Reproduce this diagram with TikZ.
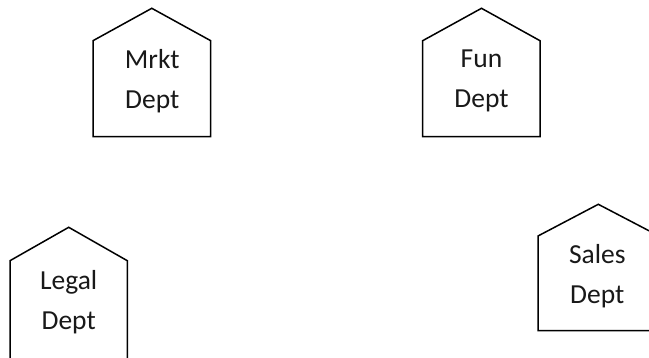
\documentclass[tikz,border=0pt]{standalone}
\usepackage{fontspec}
\setmainfont{Carlito}
\newcommand{\twolines}[2]{\vtop{\baselineskip=40pt\halign{\hfil##\hfil\cr #1\cr #2\cr}}}
\tikzset{
  house/.style={draw=black, line width=1.5pt, line join=miter},
  label/.style={anchor=base, inner sep=0pt, font=\fontsize{27.5}{40}\selectfont, text=black!90}
}
\begin{document}
\begin{tikzpicture}[x=1pt,y=-1pt]
\useasboundingbox (0,0) rectangle (649,358);
\clip (0,0) rectangle (649,358);
\fill[white] (0,0) rectangle (649,358);
% Mrkt
\draw[house] (93,136.7) -- (93,40.7) -- (151.8,8.3) -- (210.7,40.7) -- (210.7,136.7) -- cycle;
\node[label] (mrkt) at (152.3,68.3) {\twolines{Mrkt}{Dept}};
% Fun
\draw[house] (422.7,136.7) -- (422.7,40.7) -- (481.5,8.3) -- (540,40.7) -- (540,136.7) -- cycle;
\node[label] (fun) at (481.5,67.7) {\twolines{Fun}{Dept}};
% Legal
\draw[house] (10,370) -- (10,260.7) -- (68.7,227.3) -- (127.3,260.7) -- (127.3,370);
\node[label] (legal) at (68.7,289.3) {\twolines{Legal}{Dept}};
% Sales
\draw[house] (538,330.7) -- (538,236) -- (598.3,204.3) -- (659,236) -- (659,330.7) -- cycle;
\node[label] (sales) at (597.3,263.3) {\twolines{Sales}{Dept}};
\end{tikzpicture}
\end{document}
